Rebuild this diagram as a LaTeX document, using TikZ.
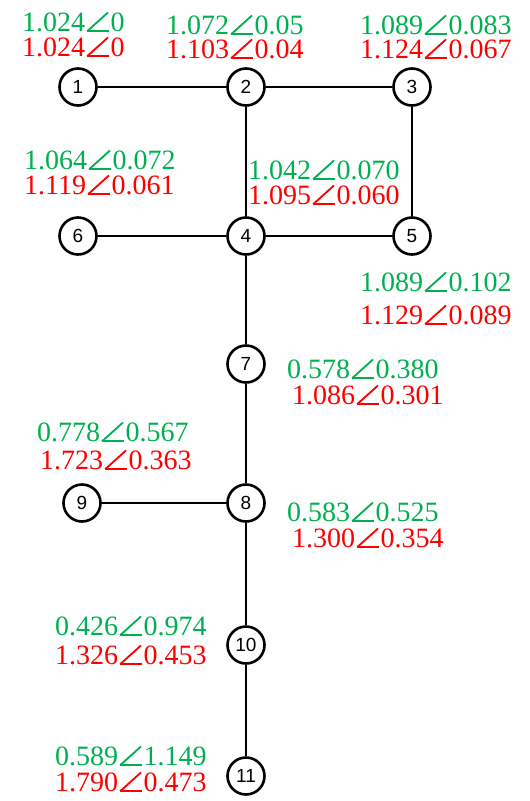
\documentclass[tikz,border=0pt]{standalone}
\usepackage{fontspec}
\usepackage{graphicx}
\setmainfont{Liberation Serif}
\newfontfamily\busf{Liberation Sans}
\definecolor{vgreen}{RGB}{0,176,80}
\definecolor{vred}{RGB}{255,0,0}
\newcommand\angl{\kern0.05em\rlap{\rotatebox[origin=lb]{42}{\rule{1.0em}{0.065em}}}\rule{0.8em}{0.065em}\kern0.06em}
\begin{document}
\begin{tikzpicture}[x=1pt,y=-1pt,
  bus/.style={circle,draw,line width=2.6pt,minimum size=37pt,inner sep=0pt,font=\busf\fontsize{19}{19}\selectfont},
  branch/.style={line width=1.8pt},
  gv/.style={anchor=west,text=vgreen,inner sep=0pt,font=\fontsize{28}{28}\selectfont},
  rv/.style={anchor=west,text=vred,inner sep=0pt,font=\fontsize{28}{28}\selectfont}]
\useasboundingbox (0,0) rectangle (530,801);
% buses
\node[bus] (n1) at (78,87) {1};
\node[bus] (n2) at (246,87) {2};
\node[bus] (n3) at (412,87) {3};
\node[bus] (n6) at (78,236) {6};
\node[bus] (n4) at (246,236) {4};
\node[bus] (n5) at (412,236) {5};
\node[bus] (n7) at (246,364) {7};
\node[bus] (n8) at (246,503) {8};
\node[bus] (n9) at (82,503) {9};
\node[bus] (n10) at (246,645) {10};
\node[bus] (n11) at (246,776) {11};
% branches
\draw[branch] (n1) -- (n2);
\draw[branch] (n2) -- (n3);
\draw[branch] (n2) -- (n4);
\draw[branch] (n3) -- (n5);
\draw[branch] (n6) -- (n4);
\draw[branch] (n4) -- (n5);
\draw[branch] (n4) -- (n7);
\draw[branch] (n7) -- (n8);
\draw[branch] (n9) -- (n8);
\draw[branch] (n8) -- (n10);
\draw[branch] (n10) -- (n11);
% labels
\node[gv] (g1) at (22,22) {1.024\angl0};
\node[rv] (r1) at (22,47) {1.024\angl0};
\node[gv] (g2) at (166,25) {1.072\angl0.05};
\node[rv] (r2) at (166,49) {1.103\angl0.04};
\node[gv] (g3) at (360,25) {1.089\angl0.083};
\node[rv] (r3) at (360,49) {1.124\angl0.067};
\node[gv] (g6) at (24,160) {1.064\angl0.072};
\node[rv] (r6) at (24,185) {1.119\angl0.061};
\node[gv] (g4) at (248,170) {1.042\angl0.070};
\node[rv] (r4) at (248,195) {1.095\angl0.060};
\node[gv] (g5) at (360,282) {1.089\angl0.102};
\node[rv] (r5) at (360,315) {1.129\angl0.089};
\node[gv] (g7) at (287,369) {0.578\angl0.380};
\node[rv] (r7) at (292,395) {1.086\angl0.301};
\node[gv] (g9) at (37,432) {0.778\angl0.567};
\node[rv] (r9) at (40,460) {1.723\angl0.363};
\node[gv] (g8) at (287,512) {0.583\angl0.525};
\node[rv] (r8) at (292,538) {1.300\angl0.354};
\node[gv] (g10) at (55,626) {0.426\angl0.974};
\node[rv] (r10) at (55,655) {1.326\angl0.453};
\node[gv] (g11) at (55,756) {0.589\angl1.149};
\node[rv] (r11) at (55,782) {1.790\angl0.473};
\end{tikzpicture}
\end{document}
